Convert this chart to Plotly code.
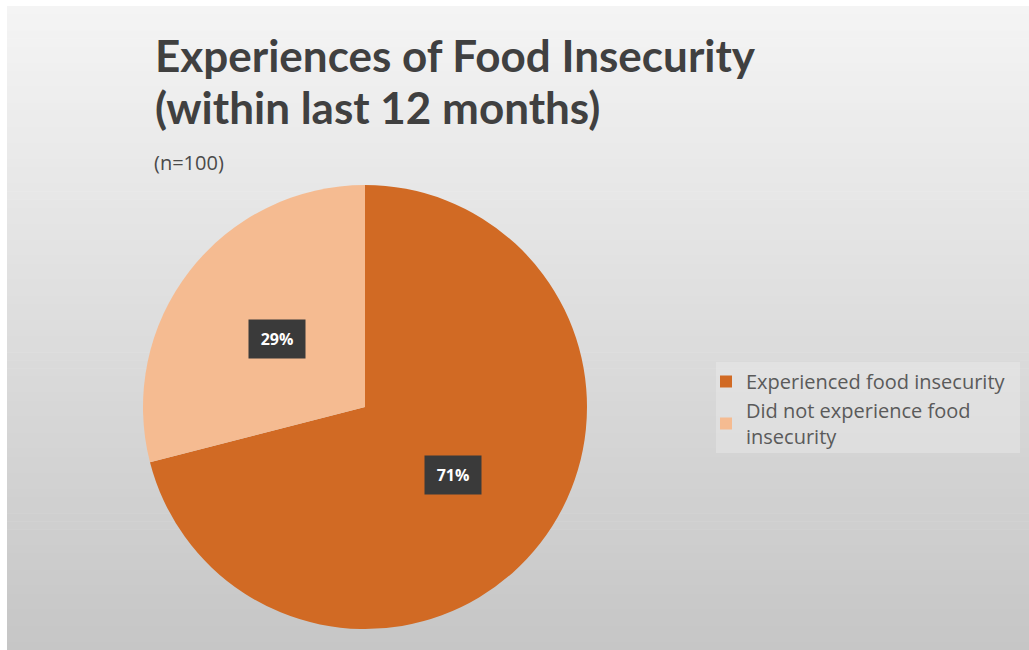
import math
import plotly.graph_objects as go

# ---- data ----
labels = ["Experienced food insecurity", "Did not experience food<br>insecurity"]
values = [71, 29]
colors = ["#D16A24", "#F5BB91"]
title_line1 = "Experiences of Food Insecurity"
title_line2 = "(within last 12 months)"
subtitle = "(n=100)"

W, H = 1029, 650

# pie domain (pixels)
cx, cy, R = 365, 407, 222
dom_x = [(cx - R) / W, (cx + R) / W]
dom_y = [1 - (cy + R) / H, 1 - (cy - R) / H]

fig = go.Figure()
fig.add_trace(go.Pie(
    labels=labels, values=values, sort=False, direction="clockwise", rotation=0,
    marker=dict(colors=colors, line=dict(width=0)),
    textinfo="none", hoverinfo="label+percent",
    domain=dict(x=dom_x, y=dom_y),
))

# background gradient (vertical), with a white border on top/left
shapes = []
N = 80
top_c, bot_c = (244, 244, 244), (198, 198, 198)
y_top, y_bot = 6, H
for i in range(N):
    t = i / (N - 1)
    c = tuple(int(round(top_c[k] + (bot_c[k] - top_c[k]) * t)) for k in range(3))
    py0 = y_top + (y_bot - y_top) * i / N
    py1 = y_top + (y_bot - y_top) * (i + 1) / N + 0.6
    shapes.append(dict(type="rect", xref="paper", yref="paper", layer="below",
                       x0=7 / W, x1=1, y0=1 - py1 / H, y1=1 - py0 / H,
                       fillcolor="rgb(%d,%d,%d)" % c, line=dict(width=0)))

# legend panel (slightly lighter)
shapes.append(dict(type="rect", xref="paper", yref="paper", layer="below",
                   x0=716 / W, x1=1020 / W, y0=1 - 453 / H, y1=1 - 362 / H,
                   fillcolor="rgba(240,240,240,0.35)", line=dict(width=0)))

annotations = []
# percentage labels with dark boxes, placed at half radius of each slice's mid angle
total = sum(values)
cum = 0
for v in values:
    mid = (cum + v / 2) / total * 2 * math.pi
    cum += v
    px = cx + 0.5 * R * math.sin(mid)
    py = cy - 0.5 * R * math.cos(mid)
    annotations.append(dict(
        x=px / W, y=1 - py / H, xref="paper", yref="paper", showarrow=False,
        text="<b>%d%%</b>" % round(v / total * 100),
        font=dict(family="Open Sans", size=16, color="white"),
        bgcolor="#3A3A3A", width=46, height=28, borderpad=5,
        xanchor="center", yanchor="middle"))

# titles
annotations.append(dict(x=153 / W, y=1 - 27 / H, xref="paper", yref="paper", showarrow=False,
                        text="<b>" + title_line1 + "</b>", xanchor="left", yanchor="top",
                        font=dict(family="Lato", size=44, color="#404040")))
annotations.append(dict(x=153 / W, y=1 - 79 / H, xref="paper", yref="paper", showarrow=False,
                        text="<b>" + title_line2 + "</b>", xanchor="left", yanchor="top",
                        font=dict(family="Lato", size=44, color="#404040")))
annotations.append(dict(x=152 / W, y=1 - 147 / H, xref="paper", yref="paper", showarrow=False,
                        text=subtitle, xanchor="left", yanchor="top",
                        font=dict(family="Open Sans", size=20, color="#4A4A4A")))

fig.update_layout(
    width=W, height=H,
    margin=dict(l=0, r=0, t=0, b=0),
    paper_bgcolor="white", plot_bgcolor="white",
    shapes=shapes, annotations=annotations,
    showlegend=True,
    legend=dict(x=706 / W, y=1 - 362 / H, xanchor="left", yanchor="top",
                bgcolor="rgba(0,0,0,0)",
                font=dict(family="Open Sans", size=20, color="#5A5A5A"),
                itemsizing="constant"),
)

fig.write_html("out.html")
